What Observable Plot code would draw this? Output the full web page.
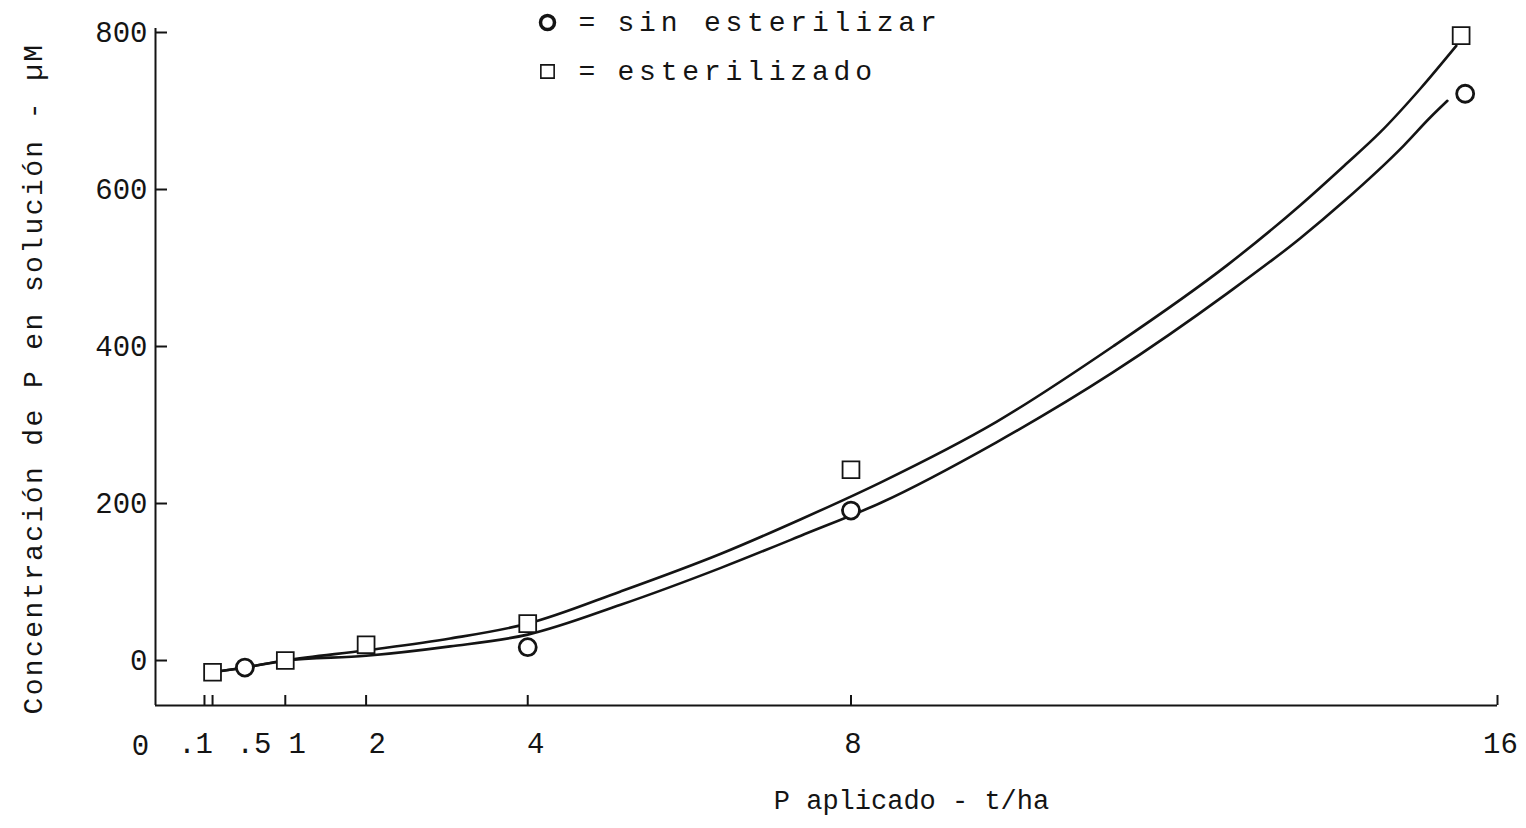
<!DOCTYPE html>
<html><head><meta charset="utf-8">
<script src="https://cdn.jsdelivr.net/npm/d3@7"></script>
<script src="https://cdn.jsdelivr.net/npm/@observablehq/plot@0.6"></script>
<style>
html,body{margin:0;padding:0;background:#fff;}
#chart{width:1526px;height:828px;}
</style></head><body><div id="chart"></div>
<script>
// ---- data ----
const xTickMarks = [0, 0.1, 1, 2, 4, 8, 16];
const xLabelVals = [0.1, 0.5, 1, 2, 4, 8, 16];
const xLabelTexts = [".1", ".5", "1", "2", "4", "8", "16"];
const yTicks = [0, 200, 400, 600, 800];

// sin esterilizar (circles)
const sinX = [0.5, 4, 8, 15.6];
const sinY = [-9, 17, 191, 722];
// esterilizado (squares)
const estX = [0.1, 1, 2, 4, 8, 15.55];
const estY = [-15, 0, 20, 47, 243, 796];

// fitted curves
const estCurveX = [0.1, 0.5, 1, 2, 3.04, 4, 5.15, 6.39, 7.38, 8.37, 9.8, 11.24, 12.66, 13.56, 14.1, 14.55, 15.05, 15.49];
const estCurveY = [-15, -9, 0, 13, 28, 47, 88, 136, 180, 227, 304, 400, 504, 580, 630, 673, 729, 783];
const sinCurveX = [0.1, 0.5, 1, 2, 3.04, 4, 5.15, 6.39, 7.38, 8.37, 9.8, 11.24, 12.66, 13.56, 14.1, 14.84, 15.17, 15.38];
const sinCurveY = [-15, -9, 0, 6, 18, 33, 71, 118, 159, 201, 278, 367, 468, 538, 585, 656, 692, 713];

const legendNames = ["sin esterilizar", "esterilizado"];
const xLabel = "P aplicado - t/ha";
const yLabel = "Concentración de P en solución - µM";

// ---- build ----
const xDomain = [-0.606, 16];
const yDomain = [-57.3, 805.1];
const W = 1526, H = 828, mL = 155, mR = 29, mT = 28, mB = 123;
const plotW = W - mL - mR, plotH = H - mT - mB;
const ink = "#141414";
const font = "Liberation Mono";
const labelDx = [-17, 9, 12, 11, 8, 2, 3];

const sinPts = sinX.map((x, i) => ({x, y: sinY[i]}));
const estPts = estX.map((x, i) => ({x, y: estY[i]}));
const sinCurve = sinCurveX.map((x, i) => ({x, y: sinCurveY[i]}));
const estCurve = estCurveX.map((x, i) => ({x, y: estCurveY[i]}));

const chart = Plot.plot({
  width: W, height: H,
  marginLeft: mL, marginRight: mR, marginTop: mT, marginBottom: mB,
  x: {domain: xDomain, axis: null},
  y: {domain: yDomain, axis: null},
  style: {fontFamily: font, color: ink, background: "white", overflow: "visible"},
  marks: [
    Plot.ruleX([xDomain[0]], {stroke: ink, strokeWidth: 2}),
    Plot.ruleY([yDomain[0]], {stroke: ink, strokeWidth: 2}),
    Plot.tickY(yTicks, {y: d => d, insetRight: plotW - 12, stroke: ink, strokeWidth: 2}),
    Plot.tickX(xTickMarks, {x: d => d, insetTop: plotH - 10, stroke: ink, strokeWidth: 2}),
    // y tick labels
    Plot.text(yTicks, {x: xDomain[0], y: d => d, text: d => String(d), textAnchor: "end", lineAnchor: "middle", dx: -8, fontSize: 29, fill: ink}),
    // x tick labels
    ...xLabelVals.map((v, i) => Plot.text([v], {x: d => d, y: yDomain[0], text: () => xLabelTexts[i], lineAnchor: "middle", dy: 38, dx: labelDx[i], fontSize: 29, fill: ink})),
    Plot.text(["0"], {x: xDomain[0], y: yDomain[0], text: d => d, lineAnchor: "middle", dx: -15, dy: 40, fontSize: 29, fill: ink}),
    // curves and points
    Plot.line(estCurve, {x: "x", y: "y", curve: "monotone-x", stroke: ink, strokeWidth: 2.6}),
    Plot.line(sinCurve, {x: "x", y: "y", curve: "monotone-x", stroke: ink, strokeWidth: 2.6}),
    Plot.dot(estPts, {x: "x", y: "y", symbol: "square", r: 9.5, stroke: ink, strokeWidth: 1.8, fill: "white"}),
    Plot.dot(sinPts, {x: "x", y: "y", symbol: "circle", r: 8.5, stroke: ink, strokeWidth: 2.8, fill: "white"}),
    // legend
    Plot.dot([0], {frameAnchor: "top-left", dx: 547 - mL, dy: 22 - mT, symbol: "circle", r: 7, stroke: ink, strokeWidth: 3.5, fill: "white"}),
    Plot.dot([0], {frameAnchor: "top-left", dx: 547 - mL, dy: 71 - mT, symbol: "square", r: 7.5, stroke: ink, strokeWidth: 1.6, fill: "white"}),
    Plot.text(["="], {frameAnchor: "top-left", text: d => d, dx: 578 - mL, dy: 22 - mT, lineAnchor: "middle", fontSize: 28, fill: ink}),
    Plot.text(["="], {frameAnchor: "top-left", text: d => d, dx: 578 - mL, dy: 71 - mT, lineAnchor: "middle", fontSize: 28, fill: ink}),
    Plot.text([legendNames[0]], {frameAnchor: "top-left", text: d => d, dx: 617 - mL, dy: 22 - mT, textAnchor: "start", lineAnchor: "middle", fontSize: 28, fill: ink}),
    Plot.text([legendNames[1]], {frameAnchor: "top-left", text: d => d, dx: 617 - mL, dy: 71 - mT, textAnchor: "start", lineAnchor: "middle", fontSize: 28, fill: ink}),
    // axis titles
    Plot.text([xLabel], {frameAnchor: "bottom", text: d => d, textAnchor: "middle", lineAnchor: "middle", dx: 911 - (mL + plotW / 2), dy: 800 - (mT + plotH), fontSize: 27, fill: ink}),
    Plot.text([yLabel], {frameAnchor: "left", text: d => d, textAnchor: "middle", lineAnchor: "middle", dx: 33 - mL, dy: 378 - (mT + plotH / 2), rotate: -90, fontSize: 28, fill: ink})
  ]
});
document.getElementById("chart").appendChild(chart);
d3.select(chart).selectAll("text").each(function () {
  const t = this.textContent;
  if (legendNames.includes(t)) this.style.letterSpacing = "4.8px";
  if (t === yLabel) this.style.letterSpacing = "2.4px";
});
</script>
</body></html>
